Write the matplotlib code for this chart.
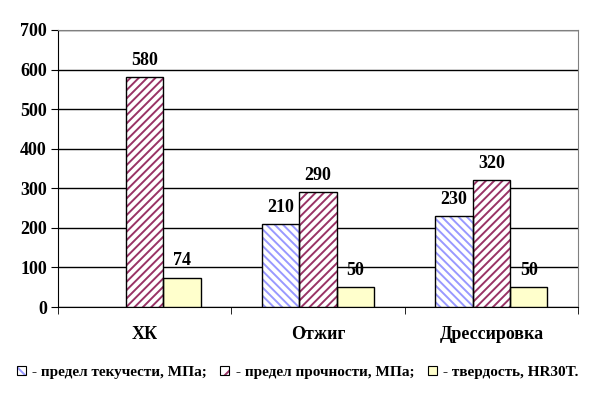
import numpy as np
import matplotlib
matplotlib.use("Agg")
import matplotlib.pyplot as plt
from matplotlib.patches import Patch

# data
categories = ["ХК", "Отжиг", "Дрессировка"]
yield_strength = [None, 210, 230]      # предел текучести, МПа
tensile_strength = [580, 290, 320]     # предел прочности, МПа
hardness = [74, 50, 50]                # твердость, HR30T
legend_labels = ["- предел текучести, МПа;", "- предел прочности, МПа;", "- твердость, HR30T."]
y_ticks = [0, 100, 200, 300, 400, 500, 600, 700]

plt.rcParams["font.family"] = ["Liberation Serif", "DejaVu Serif"]
plt.rcParams["font.weight"] = "bold"
plt.rcParams["font.size"] = 13
plt.rcParams["hatch.linewidth"] = 1.4

fig = plt.figure(figsize=(5.95, 3.93), dpi=100)
ax = fig.add_axes([58 / 595, 86 / 393, 520 / 595, 277 / 393])

x = np.arange(len(categories))
w = 0.216

series = [
    (yield_strength, -w, "#9999ff", "\\\\\\\\", "white"),
    (tensile_strength, 0, "#993366", "////", "white"),
    (hardness, w, None, None, "#ffffcc"),
]

handles = []
for vals, off, hcol, hatch, face in series:
    xs = [xi + off for xi, v in zip(x, vals) if v is not None]
    vs = [v for v in vals if v is not None]
    if hatch:
        ax.bar(xs, vs, w, color=face, edgecolor=hcol, hatch=hatch, linewidth=0, zorder=3)
        ax.bar(xs, vs, w, fill=False, edgecolor="black", linewidth=1, zorder=4)
        h = (Patch(facecolor=face, edgecolor=hcol, hatch="\\\\" if "\\" in hatch else "//", linewidth=0),
             Patch(fill=False, edgecolor="black", linewidth=0.8))
    else:
        ax.bar(xs, vs, w, color=face, edgecolor="black", linewidth=1, zorder=3)
        h = Patch(facecolor=face, edgecolor="black", linewidth=0.8)
    handles.append(h)
    for xi, v in zip(xs, vs):
        ax.annotate(str(v), (xi, v), xytext=(0, 6), textcoords="offset points",
                    ha="center", va="bottom", fontweight="bold")

ax.set_xlim(-0.5, 2.5)
ax.set_ylim(0, 700)
ax.set_yticks(y_ticks)
ax.set_xticks(x)
ax.set_xticklabels(categories)
ax.set_xticks([-0.5, 0.5, 1.5, 2.5], minor=True)
ax.tick_params(axis="x", which="major", length=0, pad=14)
ax.tick_params(axis="x", which="minor", length=5, direction="out", color="black")
ax.tick_params(axis="y", length=5, direction="out", pad=3)
ax.yaxis.grid(True, color="black", linewidth=1, zorder=0)
ax.set_axisbelow(True)

for s in ["top", "right"]:
    ax.spines[s].set_color("#808080")
for s in ["left", "bottom"]:
    ax.spines[s].set_color("black")

fig.legend(handles, legend_labels, loc="center", bbox_to_anchor=(0.5, 0.053),
           ncol=3, frameon=False, handlelength=0.6, handleheight=0.6,
           handletextpad=0.4, columnspacing=0.9, fontsize=11)

fig.savefig("out.png", dpi=100)
